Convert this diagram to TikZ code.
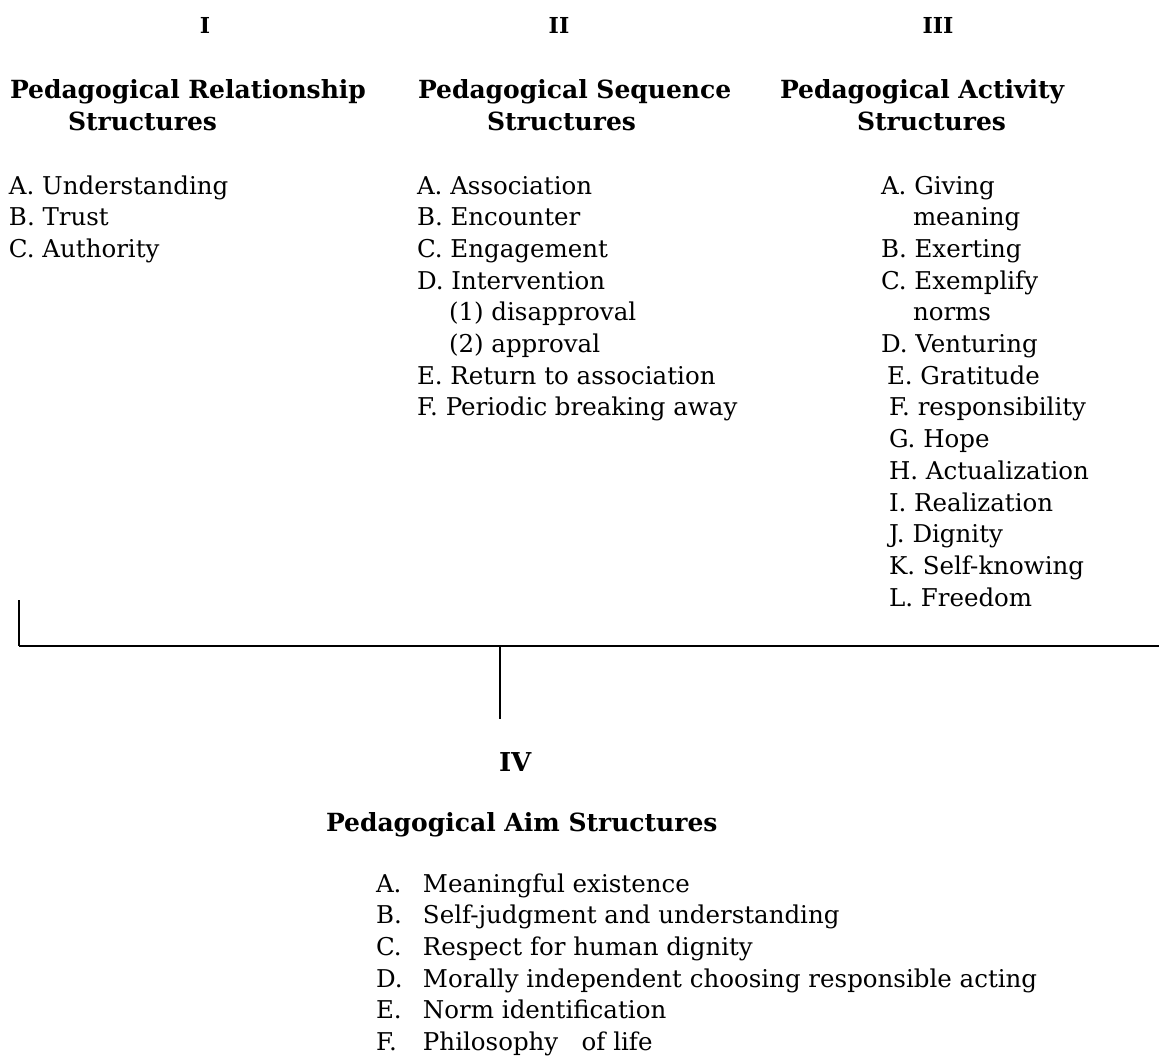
\documentclass[tikz,border=0pt]{standalone}
\usepackage{fontspec}
\setmainfont{DejaVu Serif}
\usepackage{tikz}
\usetikzlibrary{positioning}
\newcommand*{\hsp}{\hspace{32pt}}
\newcommand*{\lbl}[1]{\makebox[47pt][l]{#1}}

\begin{document}
\begin{tikzpicture}[ % one pt per pixel, y grows downwards
        x=1pt, y=-1pt,
        every node/.style={inner sep=0pt, outer sep=0pt},
        num/.style={font=\fontsize{22}{26}\selectfont\bfseries, anchor=base},
        head/.style={font=\fontsize{25}{32}\selectfont\bfseries, anchor=base west},
        items/.style={font=\fontsize{24.5}{31.7}\selectfont, anchor=base west},
        bar/.style={line width=2.2pt},
        stem/.style={line width=1.2pt}
      ]
      \useasboundingbox (0,0) rectangle (1159,1061);
      %% numbers
      \node[num] (n1) at (205,33) {I};
      \node[num] (n2) at (559,33) {II};
      \node[num] (n3) at (938,33) {III};
      %% headings
      \node[head] (h1) at (10,98) {
        \begin{tabular}[t]{@{}l@{}}
          Pedagogical Relationship\\ \hspace{58pt}Structures
        \end{tabular}
      };
      \node[head] (h2) at (418,98) {
        \begin{tabular}[t]{@{}l@{}}
          Pedagogical Sequence\\ \hspace{69pt}Structures
        \end{tabular}
      };
      \node[head] (h3) at (780,98) {
        \begin{tabular}[t]{@{}l@{}}
          Pedagogical Activity\\ \hspace{77pt}Structures
        \end{tabular}
      };
      %% lists
      \node[items] (l1) at (9,194) {
        \begin{tabular}[t]{@{}l@{}}
          A. Understanding\\ B. Trust\\ C. Authority
        \end{tabular}
      };
      \node[items] (l2) at (417,194) {
        \begin{tabular}[t]{@{}l@{}}
          A. Association\\ B. Encounter\\ C. Engagement\\ D. Intervention\\
          \hsp (1) disapproval\\ \hsp (2) approval\\
          E. Return to association\\ F. Periodic breaking away
        \end{tabular}
      };
      \node[items] (l3) at (881,194) {
        \begin{tabular}[t]{@{}l@{}}
          A. Giving\\ \hsp meaning\\ B. Exerting\\ C. Exemplify\\ \hsp norms\\ D. Venturing\\
          \hspace{6pt}E. Gratitude\\ \hspace{8pt}F. responsibility\\ \hspace{8pt}G. Hope\\
          \hspace{8pt}H. Actualization\\ \hspace{8pt}I. Realization\\ \hspace{8pt}J. Dignity\\
          \hspace{8pt}K. Self-knowing\\ \hspace{8pt}L. Freedom
        \end{tabular}
      };
      %% aim
      \node[num, anchor=base west, font=\fontsize{26}{30}\selectfont\bfseries] (n4) at (499,771) {IV};
      \node[head] (h4) at (326,831) {Pedagogical Aim Structures};
      \node[items] (l4) at (376,892) {
        \begin{tabular}[t]{@{}l@{}}
          \lbl{A.}Meaningful existence\\
          \lbl{B.}Self-judgment and understanding\\
          \lbl{C.}Respect for human dignity\\
          \lbl{D.}Morally independent choosing responsible acting\\
          \lbl{E.}Norm identification\\
          \lbl{F.}Philosophy\ \ \ of life
        \end{tabular}
      };
      %% path
      \coordinate (lt) at (19,600);
      \coordinate (lb) at (19,646);
      \coordinate (rb) at (1159,646);
      \coordinate (mb) at (500,646);
      \coordinate (mt) at (500,719);
      \draw[stem] (lt) -- (lb);
      \draw[bar] (lb) -- (rb);
      \draw[stem] (mb) -- (mt);
\end{tikzpicture}
\end{document}
